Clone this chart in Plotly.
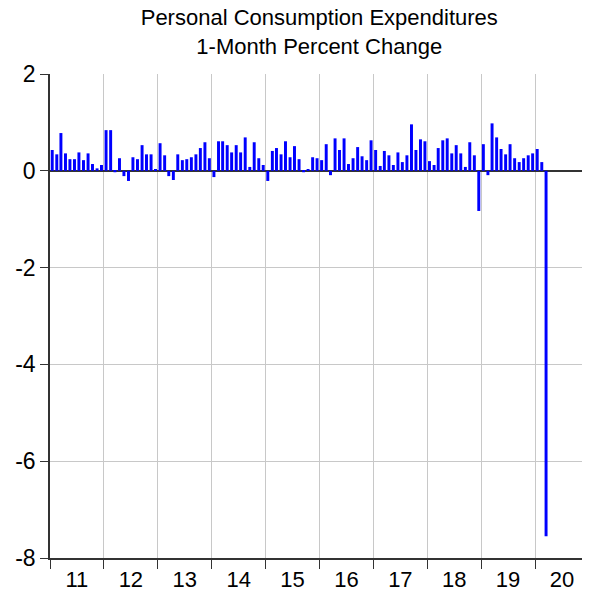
import plotly.graph_objects as go

years = [2011, 2012, 2013, 2014, 2015, 2016, 2017, 2018, 2019, 2020]
pce_2011 = [0.43, 0.34, 0.78, 0.36, 0.24, 0.24, 0.38, 0.22, 0.36, 0.14, 0.05, 0.12]
pce_2012 = [0.84, 0.84, -0.03, 0.26, -0.11, -0.21, 0.28, 0.24, 0.53, 0.34, 0.34, 0.03]
pce_2013 = [0.57, 0.32, -0.11, -0.19, 0.34, 0.22, 0.24, 0.28, 0.34, 0.47, 0.59, 0.26]
pce_2014 = [-0.13, 0.61, 0.61, 0.53, 0.38, 0.53, 0.38, 0.69, 0.08, 0.59, 0.26, 0.12]
pce_2015 = [-0.21, 0.41, 0.47, 0.34, 0.61, 0.28, 0.51, 0.24, -0.03, 0.03, 0.28, 0.26]
pce_2016 = [0.22, 0.55, -0.09, 0.67, 0.43, 0.67, 0.14, 0.26, 0.49, 0.30, 0.22, 0.63]
pce_2017 = [0.43, 0.10, 0.41, 0.32, 0.12, 0.38, 0.18, 0.32, 0.96, 0.43, 0.65, 0.61]
pce_2018 = [0.20, 0.12, 0.47, 0.63, 0.67, 0.36, 0.53, 0.36, 0.08, 0.59, 0.32, -0.83]
pce_2019 = [0.55, -0.09, 0.98, 0.69, 0.45, 0.34, 0.55, 0.26, 0.18, 0.26, 0.32, 0.36]
pce_2020 = [0.45, 0.18, -7.55]

y_tick_vals = [-8, -6, -4, -2, 0, 2]
y_tick_text = ["-8", "-6", "-4", "-2", "0", "2"]

series = [pce_2011, pce_2012, pce_2013, pce_2014, pce_2015,
          pce_2016, pce_2017, pce_2018, pce_2019, pce_2020]

dates, values = [], []
for yr, vals in zip(years, series):
    for m, v in enumerate(vals, start=1):
        dates.append(f"{yr}-{m:02d}-16")
        values.append(v)

DAY_MS = 86400000
fig = go.Figure(go.Bar(
    x=dates, y=values,
    marker=dict(color="#0000FF", line=dict(width=0)),
    width=[20 * DAY_MS] * len(values),
))

# the page adds an 8px body margin, so the figure is 8px smaller and margins shifted
font = "Liberation Sans, Arial, sans-serif"
fig.update_layout(
    width=582, height=587,
    margin=dict(l=41.5, r=1, t=66, b=36.5),
    paper_bgcolor="white", plot_bgcolor="white",
    showlegend=False,
    title=dict(
        text="Personal Consumption Expenditures<br>1-Month Percent Change",
        x=(41.5 + 581) / 2 / 582, xanchor="center",
        y=1 - 17 / 587, yanchor="top", yref="container",
        font=dict(family=font, size=22, color="black"),
    ),
    font=dict(family=font, color="black"),
)
fig.update_xaxes(
    type="date",
    range=["2011-01-01", "2021-01-01"],
    dtick="M12", tick0="2011-01-01",
    tickformat="%y", ticklabelmode="period",
    ticks="outside", ticklen=9, tickcolor="#333", tickwidth=1,
    ticklabelstandoff=-8,
    showgrid=True, gridcolor="#c8c8c8", gridwidth=1,
    showline=True, linecolor="#333", linewidth=1.5, mirror=False,
    tickfont=dict(family=font, size=22, color="black"),
    automargin=False,
)
fig.update_yaxes(
    range=[-8, 2], tickvals=y_tick_vals, ticktext=y_tick_text,
    ticks="outside", ticklen=8, tickcolor="#333", tickwidth=1,
    showgrid=True, gridcolor="#c8c8c8", gridwidth=1,
    zeroline=True, zerolinecolor="#333", zerolinewidth=1.5,
    showline=True, linecolor="#333", linewidth=1.5, mirror=True,
    tickfont=dict(family=font, size=23, color="black"),
    automargin=False,
)
fig.write_html("out.html")
